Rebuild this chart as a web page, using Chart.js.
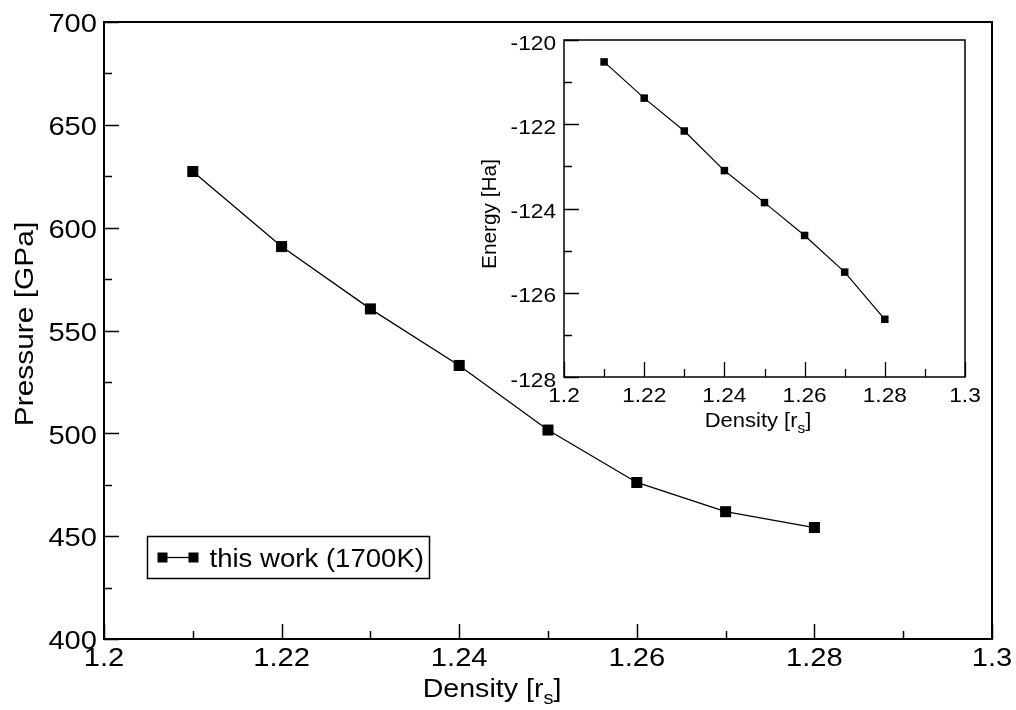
<!DOCTYPE html>
<html>
<head>
<meta charset="utf-8">
<script src="https://cdn.jsdelivr.net/npm/chart.js@4/dist/chart.umd.min.js"></script>
<style>
  html, body { margin: 0; padding: 0; background: #fff; }
  #wrap { position: relative; width: 1016px; height: 710px; }
  canvas { position: absolute; left: 0; top: 0; }
</style>
</head>
<body>
<div id="wrap">
  <canvas id="main" width="1016" height="710"></canvas>
  <canvas id="inset" width="1016" height="710"></canvas>
</div>
<script>
// ---- data ----
const density = [1.21, 1.22, 1.23, 1.24, 1.25, 1.26, 1.27, 1.28];
const pressure = [627.3, 590.8, 560.5, 533.0, 501.6, 476.1, 461.9, 454.2];
const energy = [-120.52, -121.38, -122.16, -123.10, -123.86, -124.64, -125.51, -126.63];

const xMajorTicks = [1.2, 1.22, 1.24, 1.26, 1.28, 1.3];
const xTickLabels = ["1.2", "1.22", "1.24", "1.26", "1.28", "1.3"];
const xMinorTicks = [1.21, 1.23, 1.25, 1.27, 1.29];

const pMajorTicks = [400, 450, 500, 550, 600, 650, 700];
const pTickLabels = ["400", "450", "500", "550", "600", "650", "700"];
const pMinorTicks = [425, 475, 525, 575, 625, 675];

const eMajorTicks = [-128, -126, -124, -122, -120];
const eTickLabels = ["-128", "-126", "-124", "-122", "-120"];
const eMinorTicks = [-127, -125, -123, -121];

const seriesLabel = "this work (1700K)";

const FONT = "'Liberation Sans', Arial, Helvetica, sans-serif";

// draw text (possibly with subscript parts) with a horizontal stretch factor sx
function drawRich(ctx, parts, x, y, size, align, sx) {
  if (typeof parts === 'string') parts = [{ t: parts }];
  let total = 0;
  const widths = parts.map(p => {
    ctx.font = (p.sub ? size * 0.7 : size) + "px " + FONT;
    const w = ctx.measureText(p.t).width;
    total += w;
    return w;
  });
  let start = align === 'center' ? -total / 2 : (align === 'right' ? -total : 0);
  ctx.save();
  ctx.translate(x, y);
  ctx.scale(sx, 1);
  ctx.textAlign = 'left';
  let cx = start;
  parts.forEach((p, i) => {
    ctx.font = (p.sub ? size * 0.7 : size) + "px " + FONT;
    ctx.fillText(p.t, cx, p.sub ? size * 0.28 : 0);
    cx += widths[i];
  });
  ctx.restore();
}

function framePlugin(cfg) {
  return {
    id: 'frame_' + cfg.id,
    afterDraw(chart) {
      const ctx = chart.ctx;
      const a = chart.chartArea;
      const xs = chart.scales.x, ys = chart.scales.y;
      ctx.save();
      ctx.strokeStyle = '#000';
      ctx.lineWidth = cfg.frameWidth;
      ctx.strokeRect(a.left, a.top, a.right - a.left, a.bottom - a.top);
      ctx.lineWidth = cfg.tickWidth;
      ctx.beginPath();
      cfg.xMajor.forEach(v => { const px = Math.round(xs.getPixelForValue(v)) + 0.5; ctx.moveTo(px, a.bottom); ctx.lineTo(px, a.bottom - cfg.major); });
      cfg.xMinor.forEach(v => { const px = Math.round(xs.getPixelForValue(v)) + 0.5; ctx.moveTo(px, a.bottom); ctx.lineTo(px, a.bottom - cfg.minor); });
      cfg.yMajor.forEach(v => { const py = Math.round(ys.getPixelForValue(v)) + 0.5; ctx.moveTo(a.left, py); ctx.lineTo(a.left + cfg.major, py); });
      cfg.yMinor.forEach(v => { const py = Math.round(ys.getPixelForValue(v)) + 0.5; ctx.moveTo(a.left, py); ctx.lineTo(a.left + cfg.minor, py); });
      ctx.stroke();

      ctx.fillStyle = '#000';
      ctx.textBaseline = 'alphabetic';

      // tick labels
      cfg.xMajor.forEach((v, i) => {
        drawRich(ctx, cfg.xLabels[i], xs.getPixelForValue(v), a.bottom + cfg.xLabelOff, cfg.tickSize, 'center', cfg.tickSx);
      });
      cfg.yMajor.forEach((v, i) => {
        drawRich(ctx, cfg.yLabels[i], a.left - cfg.yLabelGap, ys.getPixelForValue(v) + cfg.yLabelOff, cfg.tickSize, 'right', cfg.tickSx);
      });

      // x title
      drawRich(ctx, cfg.xTitle, cfg.xTitlePos[0], cfg.xTitlePos[1], cfg.titleSize, 'center', cfg.xTitleSx);
      // y title (rotated)
      ctx.save();
      ctx.translate(cfg.yTitlePos[0], cfg.yTitlePos[1]);
      ctx.rotate(-Math.PI / 2);
      ctx.textBaseline = 'middle';
      drawRich(ctx, cfg.yTitle, 0, 0, cfg.titleSize, 'center', cfg.yTitleSx);
      ctx.restore();

      if (cfg.legend) {
        const L = cfg.legend;
        ctx.lineWidth = 1.5;
        ctx.strokeRect(L.x, L.y, L.w, L.h);
        const cy = L.y + L.h / 2;
        ctx.lineWidth = 1.3;
        ctx.beginPath();
        ctx.moveTo(L.x + 15, cy); ctx.lineTo(L.x + 46, cy);
        ctx.stroke();
        ctx.fillRect(L.x + 15 - 5, cy - 5, 10, 10);
        ctx.fillRect(L.x + 46 - 5, cy - 5, 10, 10);
        ctx.textBaseline = 'alphabetic';
        drawRich(ctx, L.text, L.x + 62, cy + 9, L.size, 'left', L.sx);
      }
      ctx.restore();
    }
  };
}

function makeChart(el, o) {
  return new Chart(document.getElementById(el), {
    type: 'line',
    data: {
      datasets: [{
        label: o.label,
        data: o.xs.map((x, i) => ({ x: x, y: o.ys[i] })),
        borderColor: '#000',
        backgroundColor: '#000',
        borderWidth: o.lineWidth,
        pointStyle: 'rect',
        pointRadius: o.pointRadius,
        pointBorderWidth: 0,
        pointBackgroundColor: '#000',
        tension: 0,
        fill: false
      }]
    },
    options: {
      responsive: false,
      animation: false,
      devicePixelRatio: 1,
      events: [],
      layout: { padding: { top: o.area.top, right: 1016 - o.area.right, left: 0, bottom: 0 } },
      plugins: { legend: { display: false }, tooltip: { enabled: false }, title: { display: false } },
      scales: {
        x: {
          type: 'linear', min: 1.2, max: 1.3,
          grid: { display: false, drawTicks: false },
          border: { display: false },
          afterFit: s => { s.height = 710 - o.area.bottom; },
          afterBuildTicks: s => { s.ticks = xMajorTicks.map(v => ({ value: v })); },
          ticks: { display: false }
        },
        y: {
          type: 'linear', min: o.yMin, max: o.yMax,
          grid: { display: false, drawTicks: false },
          border: { display: false },
          afterFit: s => { s.width = o.area.left; },
          afterBuildTicks: s => { s.ticks = o.yMajor.map(v => ({ value: v })); },
          ticks: { display: false }
        }
      }
    },
    plugins: [framePlugin(o.frame)]
  });
}

makeChart('main', {
  label: seriesLabel, xs: density, ys: pressure,
  lineWidth: 1.3, pointRadius: 7.8,
  area: { left: 104, right: 992, top: 22, bottom: 639 },
  yMin: 400, yMax: 700, yMajor: pMajorTicks,
  frame: {
    id: 'main', frameWidth: 2, tickWidth: 1.5, major: 15, minor: 8,
    xMajor: xMajorTicks, xMinor: xMinorTicks, yMajor: pMajorTicks, yMinor: pMinorTicks,
    xLabels: xTickLabels, yLabels: pTickLabels,
    tickSize: 26, tickSx: 1.12, xLabelOff: 27, yLabelGap: 7, yLabelOff: 10.3,
    titleSize: 26, xTitleSx: 1.1, yTitleSx: 1.15,
    xTitle: [{ t: 'Density [r' }, { t: 's', sub: true }, { t: ']' }], xTitlePos: [492, 697],
    yTitle: [{ t: 'Pressure [GPa]' }], yTitlePos: [26, 324],
    legend: { x: 147.5, y: 536.5, w: 282, h: 42, text: seriesLabel, size: 26, sx: 1.06 }
  }
});

makeChart('inset', {
  label: seriesLabel, xs: density, ys: energy,
  lineWidth: 1.2, pointRadius: 5.3,
  area: { left: 564, right: 965, top: 40, bottom: 377 },
  yMin: -128, yMax: -120, yMajor: eMajorTicks,
  frame: {
    id: 'inset', frameWidth: 1.5, tickWidth: 1.3, major: 15, minor: 8,
    xMajor: xMajorTicks, xMinor: xMinorTicks, yMajor: eMajorTicks, yMinor: eMinorTicks,
    xLabels: xTickLabels, yLabels: eTickLabels,
    tickSize: 21, tickSx: 1.08, xLabelOff: 25, yLabelGap: 8, yLabelOff: 9.5,
    titleSize: 20, xTitleSx: 1.1, yTitleSx: 1.04,
    xTitle: [{ t: 'Density [r' }, { t: 's', sub: true }, { t: ']' }], xTitlePos: [758, 427],
    yTitle: [{ t: 'Energy [Ha]' }], yTitlePos: [490, 214],
    legend: null
  }
});
</script>
</body>
</html>
